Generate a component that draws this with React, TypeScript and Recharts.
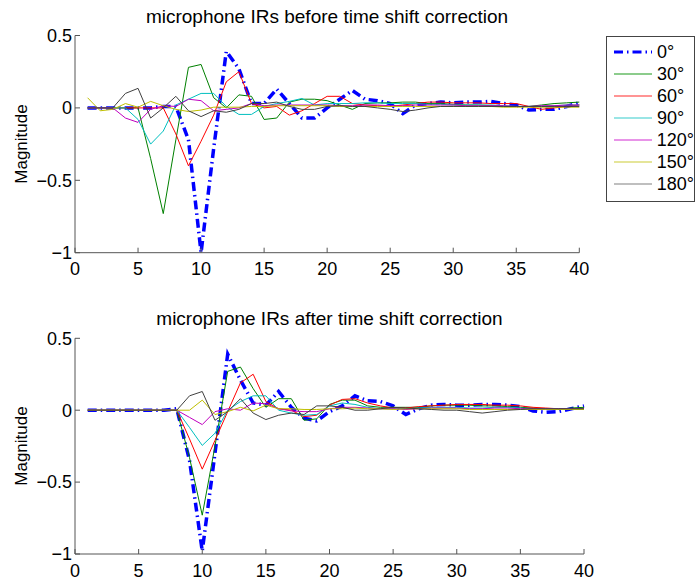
import React from 'react';
import { LineChart, Line, XAxis, YAxis, Legend } from 'recharts';

// sample index (1..40) and axis ticks
const samples = [1, 2, 3, 4, 5, 6, 7, 8, 9, 10, 11, 12, 13, 14, 15, 16, 17, 18, 19, 20,
  21, 22, 23, 24, 25, 26, 27, 28, 29, 30, 31, 32, 33, 34, 35, 36, 37, 38, 39, 40];
const xTicks = [0, 5, 10, 15, 20, 25, 30, 35, 40];
const yTicks = [-1, -0.5, 0, 0.5];
const angles = ['0°', '30°', '60°', '90°', '120°', '150°', '180°'];

// before time shift correction
const before0 = [0, 0, 0, 0, 0, 0, 0.01, 0.01, -0.22, -1.0, -0.28, 0.39, 0.27, 0.03, 0.03, 0.13, 0.03, -0.07, -0.07, 0,
  0.06, 0.12, 0.06, 0.05, 0.03, -0.04, 0.02, 0.03, 0.04, 0.035, 0.04, 0.04, 0.045, 0.03, 0.02, -0.015, -0.01, -0.01, 0.01, 0.035];
const before30 = [0, 0, 0, 0, 0, -0.35, -0.73, -0.22, 0.28, 0.3, 0.07, 0, 0.09, 0.08, -0.08, -0.07, 0.04, 0.06, 0.06, 0.05,
  0.02, -0.01, 0.03, 0.035, 0.035, 0.04, 0.04, 0.03, 0.03, 0.025, 0.02, 0.02, 0.015, 0.01, 0.01, 0.01, 0.02, 0.03, 0.035, 0.04];
const before60 = [0, 0, 0, 0, 0, 0, 0, -0.18, -0.4, -0.23, -0.05, 0.18, 0.25, 0.03, 0, 0.01, -0.05, -0.02, 0.03, 0.08,
  0.08, 0.03, 0.02, 0.015, 0.01, 0.02, 0.03, 0.04, 0.04, 0.035, 0.035, 0.035, 0.03, 0.03, 0.03, 0.01, -0.01, 0, 0.01, 0.02];
const before90 = [0, 0, 0, 0, -0.08, -0.25, -0.16, 0.02, 0.06, 0.1, 0.1, 0.01, -0.045, -0.045, 0.01, 0.03, 0.045, 0.065, 0.02, 0.03,
  0.03, 0.03, 0.035, 0.035, 0.03, 0.03, 0.03, 0.025, 0.025, 0.02, 0.02, 0.02, 0.02, 0.015, 0.01, 0.01, 0.01, 0.015, 0.02, 0.02];
const before120 = [0, 0, 0, -0.07, -0.1, -0.01, 0.015, 0.01, 0.06, 0.05, -0.02, -0.01, 0, 0.03, 0.015, 0.02, 0.02, 0.02, 0.02, 0.02,
  0.015, 0.015, 0.02, 0.02, 0.015, 0.015, 0.02, 0.02, 0.02, 0.02, 0.015, 0.015, 0.015, 0.015, 0.01, 0.01, 0.015, 0.015, 0.02, 0.02];
const before150 = [0.07, -0.02, -0.01, 0.03, 0.005, 0.045, 0.015, -0.01, -0.025, -0.015, 0.005, 0.005, 0.005, 0.01, 0.01, 0.015, 0.015, 0.015, 0.015, 0.015,
  0.01, 0.01, 0.01, 0.01, 0.01, 0.01, 0.01, 0.01, 0.01, 0.01, 0.01, 0.01, 0.01, 0.005, 0.005, 0.005, 0.005, 0.005, 0.005, 0.005];
const before180 = [0, 0, 0, 0.1, 0.135, -0.07, 0, 0.08, -0.02, -0.06, -0.02, -0.03, -0.01, 0.03, 0.03, 0.04, 0.01, -0.01, -0.01, 0.01,
  0.015, 0.01, 0.01, 0, -0.01, -0.025, -0.015, 0, 0.01, 0.01, 0.01, 0.01, 0.01, 0.01, 0.01, 0.01, 0.01, 0.01, 0.01, 0.01];

// after time shift correction
const after0 = [0, 0, 0, 0, 0, 0, 0, 0.01, -0.35, -0.98, -0.3, 0.39, 0.21, 0.05, 0.035, 0.13, 0.02, -0.055, -0.075, -0.01,
  0.03, 0.1, 0.065, 0.06, 0.03, -0.03, 0.01, 0.035, 0.04, 0.035, 0.035, 0.04, 0.04, 0.035, 0.025, -0.005, -0.015, -0.01, 0.01, 0.03];
const after30 = [0, 0, 0, 0, 0, 0, 0, 0, -0.33, -0.73, -0.25, 0.27, 0.3, 0.15, 0.02, 0.08, 0.08, -0.07, -0.06, 0.04,
  0.07, 0.07, 0.03, 0.02, 0.02, 0.02, 0.02, 0.03, 0.035, 0.035, 0.035, 0.03, 0.03, 0.025, 0.02, 0.015, 0.01, 0.005, 0.015, 0.02];
const after60 = [0, 0, 0, 0, 0, 0, 0, 0, -0.2, -0.41, -0.21, -0.01, 0.19, 0.25, 0.06, 0.01, 0, -0.045, -0.035, 0.035,
  0.075, 0.08, 0.05, 0.03, 0.015, 0.015, 0.025, 0.03, 0.035, 0.04, 0.04, 0.04, 0.035, 0.035, 0.03, 0.02, 0.015, 0.01, 0.005, 0.01];
const after90 = [0, 0, 0, 0, 0, 0, 0, 0, -0.12, -0.245, -0.16, 0, 0.06, 0.1, 0.1, 0, -0.02, -0.035, -0.03, 0.03,
  0.05, 0.04, 0.02, 0.01, 0.01, 0.01, 0.015, 0.02, 0.02, 0.02, 0.015, 0.015, 0.02, 0.02, 0.015, 0.01, 0.01, 0.01, 0.01, 0.01];
const after120 = [0, 0, 0, 0, 0, 0, 0, 0, -0.05, -0.1, -0.01, 0.01, 0, 0.05, 0.045, 0.01, -0.005, -0.01, -0.01, 0.01,
  0.02, 0.02, 0.015, 0.01, 0.01, 0.005, 0.01, 0.015, 0.015, 0.015, 0.01, 0.01, 0.015, 0.015, 0.01, 0.01, 0.01, 0.01, 0.01, 0.01];
const after150 = [0, 0, 0, 0, 0, 0, 0, 0, 0, 0.07, -0.03, -0.01, 0.02, -0.005, 0.035, 0.01, 0.01, 0.005, 0.005, 0.01,
  0.01, 0.015, 0.01, 0.01, 0.005, 0.01, 0.01, 0.01, 0.01, 0.01, 0.005, 0.005, 0.005, 0.005, 0.005, 0.005, 0.005, 0.005, 0.005, 0.005];
const after180 = [0, 0, 0, 0, 0, 0, 0, 0, 0.1, 0.13, -0.07, -0.01, 0.08, -0.02, -0.065, -0.035, -0.02, -0.03, 0.03, 0.03,
  0.02, 0, 0, 0.01, 0.02, 0.015, 0.01, 0.005, 0, 0, -0.01, -0.02, -0.01, 0, 0.005, 0.01, 0.01, 0.01, 0.01, 0.01];

const keys = ['a0', 'a30', 'a60', 'a90', 'a120', 'a150', 'a180'];
const styles = [
  { color: '#0000ff', width: 3.5, dash: '9 4 1.5 4', legend: '#0000ff' },
  { color: '#008000', width: 1, dash: undefined, legend: '#66bb66' },
  { color: '#ff0000', width: 1, dash: undefined, legend: '#ff7070' },
  { color: '#00bfbf', width: 1, dash: undefined, legend: '#77dddd' },
  { color: '#bf00bf', width: 1, dash: undefined, legend: '#e070e0' },
  { color: '#bfbf00', width: 1, dash: undefined, legend: '#dddd77' },
  { color: '#404040', width: 1, dash: undefined, legend: '#aaaaaa' },
];

const build = (cols: number[][]) =>
  samples.map((x, i) => {
    const row: Record<string, number> = { x };
    keys.forEach((k, j) => (row[k] = cols[j][i]));
    return row;
  });

const beforeRows = build([before0, before30, before60, before90, before120, before150, before180]);
const afterRows = build([after0, after30, after60, after90, after120, after150, after180]);

const fmt = (v: number) => (v < 0 ? '\u2212' + Math.abs(v) : String(v));
const axisColor = '#555';
const font = '"Liberation Sans", Arial, Helvetica, sans-serif';

const LegendBox = (props: any) => {
  // keep the plotting order, not the alphabetical one
  const payload = [...(props.payload || [])].sort((a: any, b: any) => keys.indexOf(a.dataKey) - keys.indexOf(b.dataKey));
  return (
    <div style={{ width: 89, height: 166, boxSizing: 'border-box', border: '1px solid #444', background: '#fff', paddingTop: 4, fontFamily: font }}>
      {payload.map((p: any) => {
        const idx = keys.indexOf(p.dataKey);
        const s = styles[idx];
        return (
          <div key={p.dataKey} style={{ display: 'flex', alignItems: 'center', height: 22 }}>
            <svg width={50} height={10}>
              <line x1={7} x2={45} y1={5} y2={5} stroke={s.legend} strokeWidth={idx === 0 ? 3 : 1.5} strokeDasharray={s.dash} />
            </svg>
            <span style={{ fontSize: 18, color: '#000' }}>{p.value}</span>
          </div>
        );
      })}
    </div>
  );
};

type PanelProps = { rows: any[]; top: number; margin: any; title: string; titleX: number; titleY: number; labelY: number; legend?: boolean };

function Panel({ rows, top, margin, title, titleX, titleY, labelY, legend }: PanelProps) {
  return (
    <>
      <div style={{ position: 'absolute', left: titleX - 250, top: titleY - 11, width: 500, height: 22, lineHeight: '22px', textAlign: 'center', fontSize: 19, color: '#000' }}>
        {title}
      </div>
      <div style={{ position: 'absolute', left: 22 - 100, top: labelY - 10, width: 200, height: 20, lineHeight: '20px', textAlign: 'center', fontSize: 17, transform: 'rotate(-90deg)' }}>
        Magnitude
      </div>
      <div style={{ position: 'absolute', left: 0, top }}>
        <LineChart width={696} height={290} data={rows} margin={margin}>
          <XAxis xAxisId="b" dataKey="x" type="number" domain={[0, 40]} ticks={xTicks} interval={0} height={30}
            tickSize={-5} tickMargin={15} stroke={axisColor} tick={{ fill: '#000', fontSize: 18 }} />
          <XAxis xAxisId="t" orientation="top" dataKey="x" type="number" domain={[0, 40]} ticks={xTicks} interval={0} height={0}
            tickSize={-5} tick={false} stroke={axisColor} />
          <YAxis yAxisId="l" type="number" domain={[-1, 0.5]} ticks={yTicks} interval={0} width={40}
            tickSize={-5} tickMargin={8} tickFormatter={fmt} stroke={axisColor} tick={{ fill: '#000', fontSize: 18 }} />
          <YAxis yAxisId="r" orientation="right" type="number" domain={[-1, 0.5]} ticks={yTicks} interval={0} width={0}
            tickSize={-5} tick={false} stroke={axisColor} />
          {keys.map((k, i) => (
            <Line key={k} xAxisId="b" yAxisId="l" dataKey={k} name={angles[i]} type="linear" stroke={styles[i].color}
              strokeWidth={styles[i].width} strokeDasharray={styles[i].dash} dot={false} activeDot={false} isAnimationActive={false} />
          ))}
          {legend && (
            <Legend layout="vertical" align="center" verticalAlign="middle" wrapperStyle={{ left: 606, top: 36, width: 89 }} content={LegendBox} />
          )}
        </LineChart>
      </div>
    </>
  );
}

export default function App() {
  return (
    <div style={{ position: 'absolute', left: 0, top: 0, width: 696, height: 581, background: '#fff', fontFamily: font, overflow: 'hidden' }}>
      <Panel rows={beforeRows} top={0} margin={{ top: 35.5, right: 116.7, bottom: 7.3, left: 35 }}
        title="microphone IRs before time shift correction" titleX={327} titleY={17} labelY={144} legend />
      <Panel rows={afterRows} top={300} margin={{ top: 38.3, right: 112, bottom: 6, left: 35 }}
        title="microphone IRs after time shift correction" titleX={329.5} titleY={319} labelY={446} />
    </div>
  );
}
